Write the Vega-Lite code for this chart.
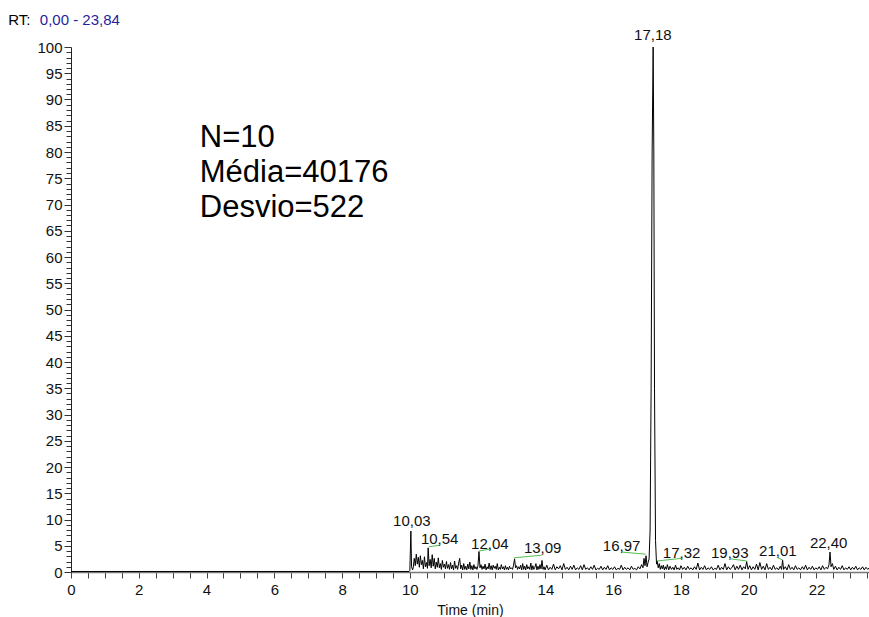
{
  "$schema": "https://vega.github.io/schema/vega-lite/v6.json",
  "width": 798,
  "height": 525,
  "autosize": {"type": "none"},
  "padding": {"left": 71, "top": 47, "right": 0, "bottom": 45},
  "background": "white",
  "config": {"view": {"stroke": null}, "font": "Liberation Sans"},
  "datasets": {
    "trace": [
      {"t":0,"v":0.1},{"t":9.98,"v":0.1},
      {"t":10.0,"v":0.3},{"t":10.03,"v":7.8},{"t":10.05,"v":1.0},{"t":10.08,"v":0.4},{"t":10.1,"v":0.8},{"t":10.13,"v":2.6},{"t":10.16,"v":1.2},{"t":10.19,"v":3.4},{"t":10.22,"v":1.5},{"t":10.25,"v":2.8},{"t":10.28,"v":0.9},{"t":10.31,"v":3.1},{"t":10.34,"v":1.4},{"t":10.37,"v":2.2},{"t":10.4,"v":0.6},{"t":10.43,"v":2.9},{"t":10.46,"v":1.0},{"t":10.49,"v":1.8},{"t":10.52,"v":0.7},{"t":10.54,"v":4.6},{"t":10.57,"v":1.2},{"t":10.6,"v":2.4},{"t":10.63,"v":0.8},{"t":10.66,"v":3.3},{"t":10.69,"v":1.1},{"t":10.72,"v":2.6},{"t":10.75,"v":0.6},{"t":10.78,"v":1.9},{"t":10.81,"v":0.9},{"t":10.84,"v":2.7},{"t":10.87,"v":0.8},{"t":10.9,"v":1.6},{"t":10.93,"v":0.5},{"t":10.96,"v":2.2},{"t":10.99,"v":0.9},
      {"t":11.02,"v":1.5},{"t":11.05,"v":0.6},{"t":11.08,"v":2.0},{"t":11.11,"v":0.7},{"t":11.14,"v":1.4},{"t":11.17,"v":0.5},{"t":11.2,"v":1.8},{"t":11.23,"v":0.6},{"t":11.26,"v":1.3},{"t":11.29,"v":0.4},{"t":11.32,"v":2.1},{"t":11.35,"v":0.7},{"t":11.38,"v":1.2},{"t":11.41,"v":0.5},{"t":11.44,"v":1.7},{"t":11.47,"v":2.6},{"t":11.5,"v":0.6},{"t":11.53,"v":1.3},{"t":11.56,"v":0.4},{"t":11.59,"v":1.6},{"t":11.62,"v":0.5},{"t":11.65,"v":1.1},{"t":11.68,"v":0.4},{"t":11.71,"v":1.5},{"t":11.74,"v":0.6},{"t":11.77,"v":1.9},{"t":11.8,"v":0.5},{"t":11.83,"v":1.2},{"t":11.86,"v":0.4},{"t":11.89,"v":1.4},{"t":11.92,"v":0.6},{"t":11.95,"v":1.0},{"t":11.98,"v":0.5},
      {"t":12.01,"v":1.2},{"t":12.04,"v":3.9},{"t":12.07,"v":0.8},{"t":12.1,"v":1.4},{"t":12.13,"v":0.5},{"t":12.16,"v":1.1},{"t":12.19,"v":0.6},{"t":12.22,"v":1.5},{"t":12.25,"v":0.4},{"t":12.28,"v":1.0},{"t":12.31,"v":0.6},{"t":12.34,"v":1.7},{"t":12.37,"v":0.5},{"t":12.4,"v":1.2},{"t":12.43,"v":0.4},{"t":12.46,"v":1.3},{"t":12.49,"v":0.7},{"t":12.52,"v":1.1},{"t":12.55,"v":0.5},{"t":12.58,"v":1.6},{"t":12.61,"v":0.4},{"t":12.64,"v":0.9},{"t":12.67,"v":0.5},{"t":12.7,"v":1.4},{"t":12.73,"v":0.6},{"t":12.76,"v":1.0},{"t":12.79,"v":0.4},{"t":12.82,"v":1.2},{"t":12.85,"v":0.5},{"t":12.88,"v":0.9},{"t":12.91,"v":0.4},{"t":12.94,"v":1.1},{"t":12.97,"v":0.6},
      {"t":13.0,"v":0.8},{"t":13.03,"v":0.5},{"t":13.06,"v":1.3},{"t":13.09,"v":2.5},{"t":13.12,"v":0.8},{"t":13.15,"v":1.2},{"t":13.18,"v":0.5},{"t":13.21,"v":1.0},{"t":13.24,"v":0.6},{"t":13.27,"v":1.3},{"t":13.3,"v":0.4},{"t":13.33,"v":1.6},{"t":13.36,"v":0.5},{"t":13.39,"v":1.1},{"t":13.42,"v":0.4},{"t":13.45,"v":1.4},{"t":13.48,"v":0.6},{"t":13.51,"v":1.0},{"t":13.54,"v":0.5},{"t":13.57,"v":1.7},{"t":13.6,"v":0.4},{"t":13.63,"v":1.2},{"t":13.66,"v":0.5},{"t":13.69,"v":0.9},{"t":13.72,"v":1.6},{"t":13.75,"v":0.4},{"t":13.78,"v":1.1},{"t":13.81,"v":0.5},{"t":13.84,"v":1.4},{"t":13.87,"v":0.6},{"t":13.9,"v":2.2},{"t":13.93,"v":0.5},{"t":13.96,"v":1.0},{"t":13.99,"v":0.4},
      {"t":14.04,"v":1.3},{"t":14.09,"v":0.4},{"t":14.14,"v":0.9},{"t":14.19,"v":0.5},{"t":14.24,"v":1.5},{"t":14.29,"v":0.4},{"t":14.34,"v":1.0},{"t":14.39,"v":0.6},{"t":14.44,"v":1.2},{"t":14.49,"v":0.4},{"t":14.54,"v":1.6},{"t":14.59,"v":0.5},{"t":14.64,"v":0.9},{"t":14.69,"v":0.4},{"t":14.74,"v":1.1},{"t":14.79,"v":0.5},{"t":14.84,"v":1.3},{"t":14.89,"v":0.4},{"t":14.94,"v":0.8},{"t":14.99,"v":0.5},
      {"t":15.04,"v":1.2},{"t":15.09,"v":0.4},{"t":15.14,"v":1.4},{"t":15.19,"v":0.5},{"t":15.24,"v":0.8},{"t":15.29,"v":0.4},{"t":15.34,"v":1.0},{"t":15.39,"v":0.5},{"t":15.44,"v":1.3},{"t":15.49,"v":0.4},{"t":15.54,"v":0.7},{"t":15.59,"v":0.5},{"t":15.64,"v":1.1},{"t":15.69,"v":0.4},{"t":15.74,"v":0.9},{"t":15.79,"v":0.5},{"t":15.84,"v":1.2},{"t":15.89,"v":0.4},{"t":15.94,"v":0.8},{"t":15.99,"v":0.5},
      {"t":16.04,"v":1.0},{"t":16.09,"v":0.4},{"t":16.14,"v":0.7},{"t":16.19,"v":0.5},{"t":16.24,"v":1.3},{"t":16.29,"v":0.4},{"t":16.34,"v":0.9},{"t":16.39,"v":0.5},{"t":16.44,"v":0.8},{"t":16.49,"v":0.4},{"t":16.54,"v":1.1},{"t":16.59,"v":0.5},{"t":16.64,"v":0.7},{"t":16.69,"v":0.4},{"t":16.74,"v":1.0},{"t":16.79,"v":0.6},{"t":16.84,"v":1.4},{"t":16.88,"v":0.8},{"t":16.91,"v":2.6},{"t":16.94,"v":1.2},{"t":16.97,"v":3.1},
      {"t":17.0,"v":1.0},{"t":17.03,"v":1.8},{"t":17.06,"v":2.5},{"t":17.09,"v":8},{"t":17.12,"v":35},{"t":17.15,"v":80},{"t":17.18,"v":100},{"t":17.2,"v":80},{"t":17.22,"v":35},{"t":17.25,"v":6},{"t":17.28,"v":1.5},{"t":17.3,"v":2.1},{"t":17.33,"v":0.8},{"t":17.36,"v":1.6},{"t":17.39,"v":0.5},{"t":17.42,"v":1.2},{"t":17.45,"v":0.6},{"t":17.48,"v":1.3},{"t":17.51,"v":0.4},{"t":17.54,"v":1.0},{"t":17.57,"v":0.5},{"t":17.6,"v":1.4},{"t":17.64,"v":0.4},{"t":17.68,"v":1.1},{"t":17.72,"v":0.5},{"t":17.76,"v":0.9},{"t":17.8,"v":0.4},{"t":17.84,"v":1.3},{"t":17.88,"v":0.5},{"t":17.92,"v":0.8},{"t":17.96,"v":0.4},
      {"t":18.0,"v":1.2},{"t":18.05,"v":0.5},{"t":18.1,"v":0.9},{"t":18.15,"v":0.4},{"t":18.2,"v":1.1},{"t":18.25,"v":0.5},{"t":18.3,"v":0.8},{"t":18.35,"v":0.4},{"t":18.4,"v":1.0},{"t":18.45,"v":0.5},{"t":18.5,"v":1.7},{"t":18.55,"v":0.4},{"t":18.6,"v":0.9},{"t":18.65,"v":0.5},{"t":18.7,"v":1.2},{"t":18.75,"v":0.4},{"t":18.8,"v":0.8},{"t":18.85,"v":0.5},{"t":18.9,"v":1.0},{"t":18.95,"v":0.4},
      {"t":19.0,"v":0.7},{"t":19.05,"v":0.5},{"t":19.1,"v":1.3},{"t":19.15,"v":0.4},{"t":19.2,"v":0.9},{"t":19.25,"v":0.5},{"t":19.3,"v":1.6},{"t":19.35,"v":0.4},{"t":19.4,"v":1.0},{"t":19.45,"v":0.5},{"t":19.5,"v":0.8},{"t":19.55,"v":1.4},{"t":19.6,"v":0.4},{"t":19.65,"v":1.1},{"t":19.7,"v":0.5},{"t":19.75,"v":1.3},{"t":19.8,"v":0.4},{"t":19.85,"v":1.0},{"t":19.9,"v":0.6},{"t":19.94,"v":2.0},{"t":19.98,"v":0.5},
      {"t":20.03,"v":1.2},{"t":20.08,"v":0.4},{"t":20.13,"v":1.0},{"t":20.18,"v":0.5},{"t":20.23,"v":1.5},{"t":20.28,"v":0.4},{"t":20.33,"v":1.8},{"t":20.38,"v":0.5},{"t":20.43,"v":1.1},{"t":20.48,"v":0.4},{"t":20.53,"v":1.6},{"t":20.58,"v":0.5},{"t":20.63,"v":0.9},{"t":20.68,"v":0.4},{"t":20.73,"v":1.3},{"t":20.78,"v":0.5},{"t":20.83,"v":0.8},{"t":20.88,"v":0.4},{"t":20.93,"v":1.1},{"t":20.97,"v":0.5},
      {"t":21.0,"v":2.3},{"t":21.03,"v":0.5},{"t":21.08,"v":1.0},{"t":21.13,"v":0.4},{"t":21.18,"v":1.4},{"t":21.23,"v":0.5},{"t":21.28,"v":0.9},{"t":21.33,"v":0.4},{"t":21.38,"v":1.2},{"t":21.43,"v":0.5},{"t":21.48,"v":0.8},{"t":21.53,"v":0.4},{"t":21.58,"v":1.0},{"t":21.63,"v":0.5},{"t":21.68,"v":1.3},{"t":21.73,"v":0.4},{"t":21.78,"v":0.9},{"t":21.83,"v":0.5},{"t":21.88,"v":1.1},{"t":21.93,"v":0.4},{"t":21.98,"v":0.8},
      {"t":22.03,"v":0.5},{"t":22.08,"v":1.0},{"t":22.13,"v":0.4},{"t":22.18,"v":1.2},{"t":22.23,"v":0.5},{"t":22.28,"v":0.9},{"t":22.33,"v":0.6},{"t":22.37,"v":1.4},{"t":22.4,"v":3.8},{"t":22.43,"v":1.0},{"t":22.47,"v":1.6},{"t":22.51,"v":0.5},{"t":22.56,"v":1.1},{"t":22.61,"v":0.4},{"t":22.66,"v":0.9},{"t":22.71,"v":0.5},{"t":22.76,"v":1.2},{"t":22.81,"v":0.4},{"t":22.86,"v":0.8},{"t":22.91,"v":0.5},{"t":22.96,"v":1.0},
      {"t":23.01,"v":0.4},{"t":23.06,"v":0.9},{"t":23.11,"v":0.5},{"t":23.16,"v":1.1},{"t":23.21,"v":0.4},{"t":23.26,"v":0.8},{"t":23.31,"v":0.5},{"t":23.36,"v":1.0},{"t":23.41,"v":0.4},{"t":23.46,"v":0.9},{"t":23.51,"v":0.5},{"t":23.56,"v":0.8},{"t":23.61,"v":0.4}
    ],
    "labels": [
      {"label":"10,03","t":10.06,"v":9.7},
      {"label":"10,54","t":10.88,"v":6.3},
      {"label":"12,04","t":12.36,"v":5.3},
      {"label":"13,09","t":13.92,"v":4.6},
      {"label":"16,97","t":16.25,"v":5.0},
      {"label":"17,18","t":17.17,"v":102.3},
      {"label":"17,32","t":18.02,"v":3.6},
      {"label":"19,93","t":19.44,"v":3.6},
      {"label":"21,01","t":20.86,"v":4.0},
      {"label":"22,40","t":22.36,"v":5.5}
    ],
    "leaders": [
      {"t":10.56,"v":4.8,"t2":10.88,"v2":5.1},
      {"t":12.04,"v":4.0,"t2":12.39,"v2":4.4},
      {"t":13.07,"v":2.7,"t2":13.89,"v2":3.2},
      {"t":16.25,"v":3.8,"t2":16.96,"v2":3.4},
      {"t":17.29,"v":2.1,"t2":18.02,"v2":2.6},
      {"t":19.47,"v":2.5,"t2":19.94,"v2":2.1},
      {"t":20.86,"v":2.7,"t2":21.0,"v2":2.3}
    ],
    "stats": [{"t":3.8,"v":81,"txt":"N=10\nMédia=40176\nDesvio=522"}],
    "rt": [{"t":-1.85,"v":104.2,"txt":"RT:"}],
    "range": [{"t":-0.92,"v":104.2,"txt":"0,00 - 23,84"}]
  },
  "encoding": {
    "x": {"field": "t", "type": "quantitative", "scale": {"domain": [0, 23.55], "nice": false, "zero": false},
      "axis": {"title": "Time (min)", "values": [0,0.5,1,1.5,2,2.5,3,3.5,4,4.5,5,5.5,6,6.5,7,7.5,8,8.5,9,9.5,10,10.5,11,11.5,12,12.5,13,13.5,14,14.5,15,15.5,16,16.5,17,17.5,18,18.5,19,19.5,20,20.5,21,21.5,22,22.5,23,23.5],
        "labelExpr": "datum.value % 2 === 0 ? format(datum.value, 'd') : ''",
        "grid": false, "domainColor": "#777777", "domainWidth": 1.5, "tickColor": "#444444", "tickSize": 6, "tickWidth": 1,
        "labelFont": "Liberation Sans", "labelFontSize": 15, "labelColor": "#111111", "labelPadding": 4, "labelFlush": false, "labelOverlap": false,
        "titleFont": "Liberation Sans", "titleFontSize": 14, "titleFontWeight": "normal", "titleColor": "#111111", "titlePadding": 6}},
    "y": {"field": "v", "type": "quantitative", "scale": {"domain": [0, 100], "nice": false},
      "axis": {"title": null, "values": [0,1,2,3,4,5,6,7,8,9,10,11,12,13,14,15,16,17,18,19,20,21,22,23,24,25,26,27,28,29,30,31,32,33,34,35,36,37,38,39,40,41,42,43,44,45,46,47,48,49,50,51,52,53,54,55,56,57,58,59,60,61,62,63,64,65,66,67,68,69,70,71,72,73,74,75,76,77,78,79,80,81,82,83,84,85,86,87,88,89,90,91,92,93,94,95,96,97,98,99,100],
        "labelExpr": "datum.value % 5 === 0 ? format(datum.value, 'd') : ''",
        "grid": false, "domainColor": "#222222", "domainWidth": 1, "tickColor": "#333333", "tickWidth": 1,
        "tickSize": {"condition": {"test": "datum.value % 5 === 0", "value": 7}, "value": 5},
        "labelFont": "Liberation Sans", "labelFontSize": 15, "labelColor": "#111111", "labelPadding": 2, "labelFlush": false, "labelOverlap": false}}
  },
  "layer": [
    {
      "data": {"name": "trace"},
      "mark": {"type": "line", "color": "black", "strokeWidth": 1, "clip": true}
    },
    {
      "data": {"name": "leaders"},
      "mark": {"type": "rule", "color": "#4fc04f", "strokeWidth": 1},
      "encoding": {
        "x2": {"field": "t2"},
        "y2": {"field": "v2"}
      }
    },
    {
      "data": {"name": "labels"},
      "mark": {"type": "text", "font": "Liberation Sans", "fontSize": 15, "color": "#111111", "align": "center", "baseline": "middle"},
      "encoding": {"text": {"field": "label"}}
    },
    {
      "data": {"name": "stats"},
      "mark": {"type": "text", "font": "Liberation Sans", "fontSize": 31, "color": "black", "align": "left", "baseline": "alphabetic", "lineBreak": "\n", "lineHeight": 35},
      "encoding": {"text": {"field": "txt"}}
    },
    {
      "data": {"name": "rt"},
      "mark": {"type": "text", "font": "Liberation Sans", "fontSize": 15, "color": "black", "align": "left", "baseline": "alphabetic"},
      "encoding": {"text": {"field": "txt"}}
    },
    {
      "data": {"name": "range"},
      "mark": {"type": "text", "font": "Liberation Sans", "fontSize": 15, "color": "#1f1fa0", "align": "left", "baseline": "alphabetic"},
      "encoding": {"text": {"field": "txt"}}
    }
  ]
}
